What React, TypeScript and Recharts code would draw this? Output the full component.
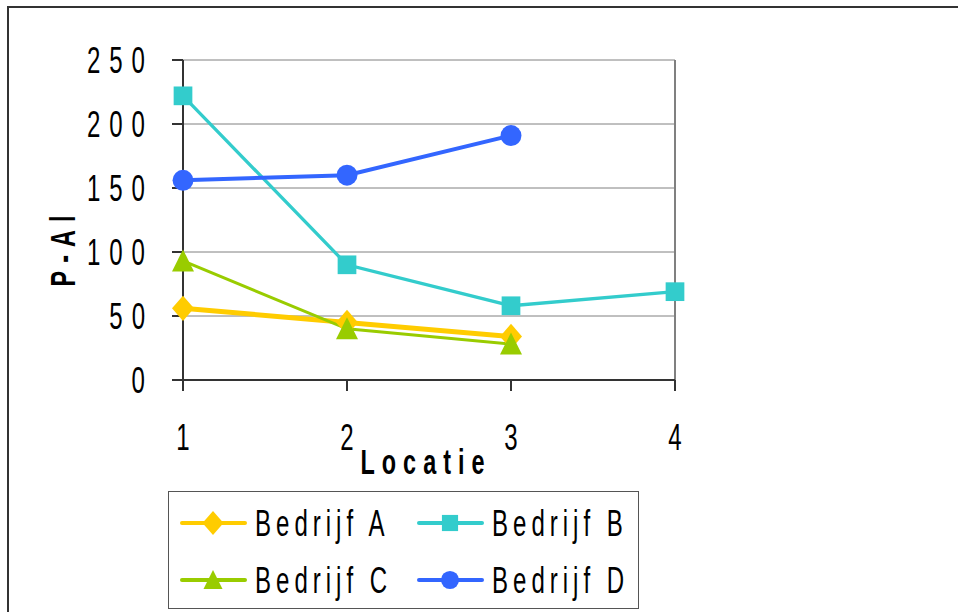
import { LineChart, Line, XAxis, YAxis, CartesianGrid, Legend, ReferenceLine } from 'recharts'

const FONT = "'Liberation Sans', Arial, sans-serif"
const SX = 0.65 // the original type is a squeezed Arial

// Locatie 1..4, P-Al per bedrijf
const locaties = [1, 2, 3, 4]
const bedrijfA = [56, 45, 34, null]
const bedrijfB = [222, 90, 58, 69]
const bedrijfC = [93, 40, 28, null]
const bedrijfD = [156, 160, 191, null]
const yTicks = [0, 50, 100, 150, 200, 250]
const seriesNames = ['Bedrijf A', 'Bedrijf B', 'Bedrijf C', 'Bedrijf D']
const seriesColors = ['#FFCC00', '#33CCCC', '#99CC00', '#3366FF']

const data = locaties.map((loc, i) => ({
  loc,
  A: bedrijfA[i],
  B: bedrijfB[i],
  C: bedrijfC[i],
  D: bedrijfD[i],
}))

type Shape = 'diamond' | 'square' | 'triangle' | 'circle'
const shapes: Shape[] = ['diamond', 'square', 'triangle', 'circle']

function Marker({ cx, cy, shape, color, s }: { cx: number; cy: number; shape: Shape; color: string; s: number }) {
  if (shape === 'diamond')
    return <polygon points={`${cx},${cy - s * 1.15} ${cx + s},${cy} ${cx},${cy + s * 1.15} ${cx - s},${cy}`} fill={color} />
  if (shape === 'square')
    return <rect x={cx - s * 0.85} y={cy - s * 0.85} width={s * 1.7} height={s * 1.7} fill={color} />
  if (shape === 'triangle')
    return <polygon points={`${cx},${cy - s * 1.05} ${cx + s},${cy + s * 0.95} ${cx - s},${cy + s * 0.95}`} fill={color} />
  return <circle cx={cx} cy={cy} r={s * 0.95} fill={color} />
}

const makeDot = (i: number) => (props: any) => {
  const { cx, cy, index } = props
  if (cx == null || cy == null || props.value == null) return <g key={index} />
  return <Marker key={index} cx={cx} cy={cy} shape={shapes[i]} color={seriesColors[i]} s={11} />
}

// squeezed text: spacing is given in screen px
function SqText({ x, y, text, anchor = 'start', size = 37, spacing = 8, bold = false, rotate = 0 }: any) {
  return (
    <text
      transform={`translate(${x},${y}) rotate(${rotate}) scale(${SX},1)`}
      textAnchor={anchor}
      fontFamily={FONT}
      fontSize={size}
      fontWeight={bold ? 'bold' : 'normal'}
      letterSpacing={spacing / SX}
      fill="#000"
    >
      {text}
    </text>
  )
}

function YTick({ x, y, payload }: any) {
  return <SqText x={x + 9} y={y + 13} text={String(payload.value)} anchor="end" spacing={9} />
}

function XTick({ x, y, payload }: any) {
  return <SqText x={x + 4} y={y + 26} text={String(payload.value)} anchor="middle" spacing={8} />
}

function LegendBox() {
  const cols = [14, 251]
  const rows = [32, 89]
  return (
    <svg width={471} height={119} style={{ display: 'block' }}>
      <rect x={0.5} y={0.5} width={470} height={117} fill="#fff" stroke="#555" strokeWidth={1} />
      {seriesNames.map((name, i) => {
        const left = cols[i % 2]
        const cy = rows[Math.floor(i / 2)]
        return (
          <g key={name}>
            <line x1={left} y1={cy} x2={left + 63} y2={cy} stroke={seriesColors[i]} strokeWidth={4} strokeLinecap="round" />
            <Marker cx={left + 31} cy={cy} shape={shapes[i]} color={seriesColors[i]} s={i === 0 ? 10.5 : 9.5} />
            <SqText x={left + 73} y={cy + 13} text={name} size={37} spacing={5} />
          </g>
        )
      })}
    </svg>
  )
}

export default function App() {
  return (
    <div style={{ position: 'fixed', left: 0, top: 0, width: 958, height: 612, background: '#fff', overflow: 'hidden' }}>
      <div
        style={{
          position: 'absolute',
          left: 7,
          top: 6,
          width: 980,
          height: 640,
          border: '2px solid #333',
        }}
      />
      <LineChart
        width={958}
        height={612}
        data={data}
        margin={{ top: 60, right: 283, left: 33, bottom: 132 }}
      >
        <CartesianGrid vertical={false} stroke="#808080" strokeWidth={1} />
        <ReferenceLine x={4} stroke="#808080" strokeWidth={2} />
        <XAxis
          dataKey="loc"
          type="number"
          domain={[1, 4]}
          ticks={locaties}
          height={100}
          stroke="#333"
          strokeWidth={2}
          tickSize={11}
          tickMargin={33}
          tick={<XTick />}
          label={{
            value: 'Locatie',
            content: (p: any) => {
              const vb = p.viewBox
              return (
                <SqText x={vb.x + vb.width / 2 - 3} y={vb.y + 94} text="Locatie" anchor="middle" size={36} spacing={7} bold />
              )
            },
          }}
        />
        <YAxis
          type="number"
          domain={[0, 250]}
          ticks={yTicks}
          width={150}
          stroke="#333"
          strokeWidth={2}
          tickSize={11}
          tickMargin={27}
          tick={<YTick />}
          label={{
            value: 'P-Al',
            content: (p: any) => {
              const vb = p.viewBox
              return (
                <text
                  transform={`translate(${vb.x + 42},${vb.y + vb.height / 2 + 27}) rotate(-90) scale(${SX},1)`}
                  textAnchor="middle"
                  fontFamily={FONT}
                  fontSize={36}
                  fontWeight="bold"
                  letterSpacing={8 / SX}
                  fill="#000"
                >
                  P-Al
                </text>
              )
            },
          }}
        />
        <Legend
          layout="horizontal"
          verticalAlign="middle"
          align="center"
          wrapperStyle={{ left: 168, top: 491, width: 471, height: 119 }}
          content={() => <LegendBox />}
        />
        <Line dataKey="A" name={seriesNames[0]} stroke={seriesColors[0]} strokeWidth={5} dot={makeDot(0)} isAnimationActive={false} />
        <Line dataKey="B" name={seriesNames[1]} stroke={seriesColors[1]} strokeWidth={3.3} dot={makeDot(1)} isAnimationActive={false} />
        <Line dataKey="C" name={seriesNames[2]} stroke={seriesColors[2]} strokeWidth={3} dot={makeDot(2)} isAnimationActive={false} />
        <Line dataKey="D" name={seriesNames[3]} stroke={seriesColors[3]} strokeWidth={4} dot={makeDot(3)} isAnimationActive={false} />
      </LineChart>
    </div>
  )
}
